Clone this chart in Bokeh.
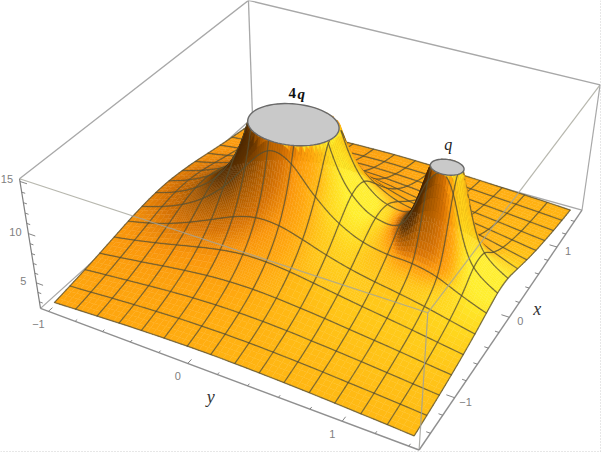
import numpy as np
from bokeh.plotting import figure
from bokeh.core.properties import value
from bokeh.embed import file_html
from bokeh.resources import INLINE

# mesh nodes and surface heights (heights under the caps are hidden, top is cut at 15)
x_half = [0.1, 0.3, 0.5, 0.7, 0.9, 1.1, 1.3, 1.5]
y_nodes = [-1, -0.84, -0.68, -0.52, -0.36, -0.2, -0.04, 0.12, 0.28, 0.44, 0.6, 0.76, 0.92, 1.08, 1.24, 1.4]
z_x01 = [4.48, 5.27, 6.41, 8.21, 11.4, 18.7, 38.1, 26.7, 14.9, 10.6, 9.0, 9.07, 14.0, 13.5, 7.07, 5.28]
z_x03 = [4.32, 5.02, 5.97, 7.32, 9.25, 11.9, 14.1, 13.5, 11.0, 9.08, 7.96, 7.5, 7.35, 6.79, 5.73, 4.79]
z_x05 = [4.07, 4.61, 5.31, 6.18, 7.18, 8.2, 8.84, 8.77, 8.12, 7.33, 6.68, 6.2, 5.8, 5.34, 4.79, 4.25]
z_x07 = [3.75, 4.17, 4.65, 5.19, 5.73, 6.21, 6.51, 6.52, 6.31, 5.96, 5.58, 5.22, 4.88, 4.53, 4.16, 3.8]
z_x09 = [3.43, 3.74, 4.07, 4.42, 4.74, 5.01, 5.17, 5.2, 5.11, 4.93, 4.72, 4.47, 4.22, 3.96, 3.68, 3.42]
z_x11 = [3.13, 3.36, 3.59, 3.82, 4.03, 4.19, 4.29, 4.32, 4.28, 4.19, 4.04, 3.88, 3.7, 3.5, 3.3, 3.1]
z_x13 = [2.86, 3.02, 3.2, 3.36, 3.5, 3.61, 3.67, 3.7, 3.68, 3.63, 3.53, 3.42, 3.28, 3.14, 2.99, 2.83]
z_x15 = [2.62, 2.75, 2.87, 2.99, 3.08, 3.16, 3.21, 3.24, 3.22, 3.18, 3.12, 3.04, 2.94, 2.83, 2.72, 2.59]

charges = ["4q", "q"]
charge_y = [0.0, 1.0]
cap_radius = [0.285, 0.098]
z_top = 15.0

y_major = [-1, 0, 1]
y_minor = [-0.8, -0.6, -0.4, -0.2, 0.2, 0.4, 0.6, 0.8, 1.2, 1.4]
x_major = [-1, 0, 1]
x_minor = [-1.4, -1.2, -0.8, -0.6, -0.4, -0.2, 0.2, 0.4, 0.6, 0.8, 1.2, 1.4]
z_major = [5, 10, 15]
z_minor = [3, 4, 6, 7, 8, 9, 11, 12, 13, 14]

# box limits and where its corners fall in the picture (camera calibration)
XMIN, XMAX, YMIN, YMAX, ZMIN, ZMAX = -1.58, 1.58, -1.06, 1.46, 2.3, 15.25
corners_world = [(XMIN, YMIN, ZMAX), (XMIN, YMAX, ZMAX), (XMAX, YMAX, ZMAX), (XMAX, YMIN, ZMAX),
                 (XMIN, YMIN, ZMIN), (XMIN, YMAX, ZMIN), (XMAX, YMAX, ZMIN)]
corners_px = [(19, 178), (428, 313), (599, 84), (248, 0), (40, 308), (418, 449), (582, 210)]

A = []
b = []
for (X, Y, Z), (u, v) in zip(corners_world, corners_px):
    A.append([X, Y, Z, 1, 0, 0, 0, 0, -u * X, -u * Y, -u * Z])
    b.append(u)
    A.append([0, 0, 0, 0, X, Y, Z, 1, -v * X, -v * Y, -v * Z])
    b.append(v)
sol = np.linalg.lstsq(np.array(A, float), np.array(b, float), rcond=None)[0]
P = np.append(sol, 1.0).reshape(3, 4)


def project(X, Y, Z):
    X, Y, Z = np.asarray(X, float), np.asarray(Y, float), np.asarray(Z, float)
    w = P[2, 0] * X + P[2, 1] * Y + P[2, 2] * Z + P[2, 3]
    return ((P[0, 0] * X + P[0, 1] * Y + P[0, 2] * Z + P[0, 3]) / w,
            (P[1, 0] * X + P[1, 1] * Y + P[1, 2] * Z + P[1, 3]) / w, w)


half = np.array([z_x01, z_x03, z_x05, z_x07, z_x09, z_x11, z_x13, z_x15], float)
Zg = np.vstack([half[::-1], half])
Xn = np.array([-v for v in x_half[::-1]] + x_half, float)
Yn = np.array(y_nodes, float)
W = 1.0 / Zg
Wp = np.pad(W, 1, mode="constant")
Wp[0, 1:-1] = 2 * W[0] - W[1]
Wp[-1, 1:-1] = 2 * W[-1] - W[-2]
Wp[:, 0] = 2 * Wp[:, 1] - Wp[:, 2]
Wp[:, -1] = 2 * Wp[:, -2] - Wp[:, -3]


def cr(t):
    return np.array([(-t + 2 * t * t - t ** 3) / 2, (2 - 5 * t * t + 3 * t ** 3) / 2,
                     (t + 4 * t * t - 3 * t ** 3) / 2, (-t * t + t ** 3) / 2])


# lighting in view space (the picture's axes are mirrored, so screen right is -(f x z))
SC = np.array([1 / 3.16, 1 / 2.52, 0.4 / 12.95])
Cam = -np.linalg.solve(P[:3, :3], P[:3, 3]) * SC
centre = np.array([0.0, (YMIN + YMAX) / 2, (ZMIN + ZMAX) / 2]) * SC
f = centre - Cam
f = f / np.linalg.norm(f)
r0 = np.cross(f, [0, 0, 1.0])
r0 = r0 / np.linalg.norm(r0)
up = np.cross(r0, f)
r = -r0
L = 0.55 * r + 0.3 * up - 0.78 * f
L = L / np.linalg.norm(L)
RAMP_D = [-0.6, -0.05, 0.2, 0.4, 0.55, 0.68, 0.75, 0.85, 0.95]
RAMP_R = [60, 95, 170, 215, 250, 255, 255, 255, 255]
RAMP_G = [30, 50, 90, 115, 150, 168, 185, 215, 238]
RAMP_B = [0, 0, 0, 5, 12, 15, 20, 30, 45]

xs, ys, cols, alphas, keys = [], [], [], [], []
_w = project([XMIN, XMAX], [YMAX, YMIN], [ZMIN, ZMIN])[2]
bias = 0.02 * abs(_w.max() - _w.min())
MESH = "#5a5032"


def strip(ax, ay, bx, by, key):
    dx, dy = bx - ax, by - ay
    d = np.hypot(dx, dy) + 1e-9
    nx, ny = -dy / d * 0.38, dx / d * 0.38
    xs.append([ax + nx, bx + nx, bx - nx, ax - nx])
    ys.append([ay + ny, by + ny, by - ny, ay - ny])
    cols.append(MESH)
    alphas.append(0.85)
    keys.append(key - bias)


for i in range(15):
    for j in range(15):
        n = 10 if Zg[i:i + 2, j:j + 2].max() > 6.5 else 4
        t = np.linspace(0, 1, n + 1)
        Bs = cr(t)
        wv = np.einsum("at,bu,ab->tu", Bs, Bs, Wp[i:i + 4, j:j + 4])
        zv = np.minimum(1.0 / np.maximum(wv, 0.02), z_top)
        xv = Xn[i] + (Xn[i + 1] - Xn[i]) * t
        yv = Yn[j] + (Yn[j + 1] - Yn[j]) * t
        XX, YY = np.meshgrid(xv, yv, indexing="ij")
        U, V, D = project(XX, YY, zv)
        for a in range(n):
            for c in range(n):
                zq = [zv[a, c], zv[a + 1, c], zv[a + 1, c + 1], zv[a, c + 1]]
                if min(zq) >= z_top:
                    continue
                p0 = np.array([XX[a, c], YY[a, c], zv[a, c]]) * SC
                p1 = np.array([XX[a + 1, c + 1], YY[a + 1, c + 1], zv[a + 1, c + 1]]) * SC
                p2 = np.array([XX[a + 1, c], YY[a + 1, c], zv[a + 1, c]]) * SC
                p3 = np.array([XX[a, c + 1], YY[a, c + 1], zv[a, c + 1]]) * SC
                nrm = np.cross(p1 - p0, p3 - p2)
                nrm = nrm / (np.linalg.norm(nrm) + 1e-12)
                if nrm[2] < 0:
                    nrm = -nrm
                d = float(nrm @ L)
                col = "#%02x%02x%02x" % (int(np.interp(d, RAMP_D, RAMP_R)), int(np.interp(d, RAMP_D, RAMP_G)), int(np.interp(d, RAMP_D, RAMP_B)))
                key = float(D[a:a + 2, c:c + 2].mean())
                xs.append([U[a, c], U[a + 1, c], U[a + 1, c + 1], U[a, c + 1]])
                ys.append([V[a, c], V[a + 1, c], V[a + 1, c + 1], V[a, c + 1]])
                cols.append(col)
                alphas.append(1.0)
                keys.append(key)
                # mesh lines along the cell borders
                if a == 0 and zv[a, c] < z_top:
                    strip(U[a, c], V[a, c], U[a, c + 1], V[a, c + 1], key)
                if c == 0 and zv[a, c] < z_top:
                    strip(U[a, c], V[a, c], U[a + 1, c], V[a + 1, c], key)
                if i == 14 and a == n - 1:
                    strip(U[a + 1, c], V[a + 1, c], U[a + 1, c + 1], V[a + 1, c + 1], key)
                if j == 14 and c == n - 1:
                    strip(U[a, c + 1], V[a, c + 1], U[a + 1, c + 1], V[a + 1, c + 1], key)

order = np.argsort(-np.array(keys), kind="stable")
xs = [xs[k] for k in order]
ys = [ys[k] for k in order]
cols = [cols[k] for k in order]
alphas = [alphas[k] for k in order]

p = figure(width=601, height=453, x_range=(0, 601), y_range=(453, 0), output_backend="svg",
           toolbar_location=None, x_axis_type=None, y_axis_type=None, min_border=0,
           outline_line_color=None)
p.grid.visible = False


def seg(a, b, color="#a8a8a8", width=1.3, alpha=1.0):
    ua, va, _ = project(*a)
    ub, vb, _ = project(*b)
    p.line([float(ua), float(ub)], [float(va), float(vb)], line_color=color, line_width=width, line_alpha=alpha)


# back edges of the box
seg((XMAX, YMIN, ZMAX), (XMIN, YMIN, ZMAX))
seg((XMAX, YMIN, ZMAX), (XMAX, YMAX, ZMAX))
seg((XMAX, YMIN, ZMAX), (XMAX, YMIN, ZMIN))
seg((XMAX, YMIN, ZMIN), (XMIN, YMIN, ZMIN))
seg((XMAX, YMIN, ZMIN), (XMAX, YMAX, ZMIN))

p.patches(xs, ys, fill_color=cols, line_color=cols, fill_alpha=alphas, line_alpha=alphas, line_width=0.35)

# caps
for cy, rad in zip(charge_y, cap_radius):
    th = np.linspace(0, 2 * np.pi, 73)
    U, V, _ = project(rad * np.cos(th), cy + rad * np.sin(th), np.full_like(th, z_top))
    p.patch(U.tolist(), V.tolist(), fill_color="#c9c9c9", line_color="#6a6a6a", line_width=1.4)

# front edges of the box
seg((XMIN, YMIN, ZMAX), (XMIN, YMAX, ZMAX), "#a5a59a", 1.2, 0.8)
seg((XMIN, YMAX, ZMAX), (XMAX, YMAX, ZMAX), "#a5a59a", 1.2, 0.8)
seg((XMIN, YMAX, ZMAX), (XMIN, YMAX, ZMIN), "#a0a09a", 1.2, 0.85)
seg((XMIN, YMIN, ZMAX), (XMIN, YMIN, ZMIN), "#808080", 1.2)
seg((XMAX, YMAX, ZMAX), (XMAX, YMAX, ZMIN), "#a8a8a8", 1.2)
seg((XMIN, YMIN, ZMIN), (XMIN, YMAX, ZMIN), "#909090", 1.4)
seg((XMIN, YMAX, ZMIN), (XMAX, YMAX, ZMIN), "#909090", 1.4)

# ticks
for v, ln in [(v, 0.05) for v in y_major] + [(v, 0.025) for v in y_minor]:
    seg((XMIN, v, ZMIN), (XMIN + ln, v, ZMIN), "#777777", 0.9)
for v, ln in [(v, 0.05) for v in x_major] + [(v, 0.025) for v in x_minor]:
    seg((v, YMAX, ZMIN), (v, YMAX - ln, ZMIN), "#777777", 0.9)
for v, ln in [(v, 0.05) for v in z_major] + [(v, 0.025) for v in z_minor]:
    seg((XMIN, YMIN, v), (XMIN, YMIN + ln, v), "#777777", 0.9)


def label(px, py, s, font="Liberation Sans", size="11px", color="#808080", style="normal"):
    p.text([float(px)], [float(py)], text=[s], text_font=value(font), text_font_size=size, text_color=color,
           text_font_style=style, text_align="center", text_baseline="middle")


for v in z_major:
    u, w, _ = project(XMIN, YMIN, v)
    label(u - 13, w - 2, str(v))
for v in y_major:
    u, w, _ = project(XMIN, v, ZMIN)
    label(u - 10, w + 13, str(v).replace("-", "\u2212"))
for v in x_major:
    u, w, _ = project(v, YMAX, ZMIN)
    label(u + 11, w + 4, str(v).replace("-", "\u2212"))

u, w, _ = project(XMIN, 0.15, ZMIN)
label(u + 1, w + 25, "y", "Liberation Serif", "18px", "#333333", "italic")
u, w, _ = project(0.1, YMAX, ZMIN)
label(u + 23, w - 1, "x", "Liberation Serif", "18px", "#333333", "italic")

u, w, _ = project(0.0, charge_y[0], z_top)
label(u - 1, w - 31, "4", "Liberation Serif", "15px", "#111111", "bold")
label(u + 8, w - 30, "q", "Liberation Serif", "15px", "#111111", "bold italic")
u, w, _ = project(0.0, charge_y[1], z_top)
label(u + 1, w - 23, "q", "Liberation Serif", "16px", "#222222", "italic")

# faint dotted frame of the original picture
p.line([600, 600], [0, 453], line_color="#cfcfcf", line_width=1, line_dash="1 2")
p.line([0, 601], [451, 451], line_color="#cfcfcf", line_width=1, line_dash="1 2")

open("out.html", "w").write(file_html(p, INLINE))
